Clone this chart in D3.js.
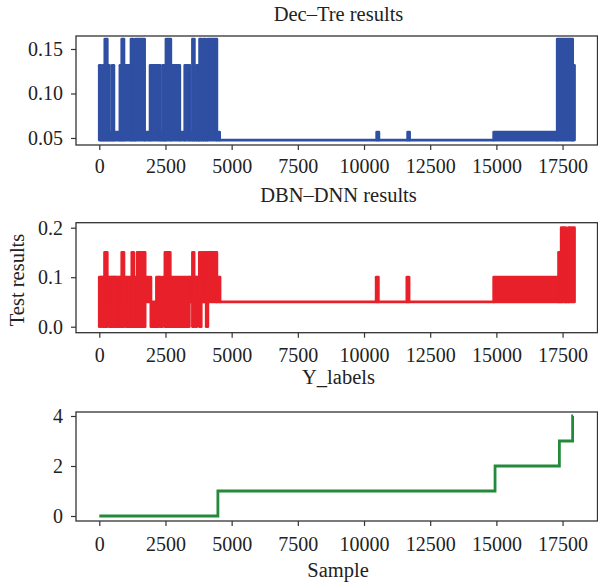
<!DOCTYPE html>
<html>
<head>
<meta charset="utf-8">
<script src="https://cdn.jsdelivr.net/npm/d3@7"></script>
<style>
  html, body { margin: 0; padding: 0; background: #fff; }
  svg { display: block; }
  text { font-family: "Liberation Serif", "DejaVu Serif", serif; fill: #222; }
</style>
</head>
<body>
<svg id="chart" width="598" height="586"></svg>
<script>
// ---------------- DATA ----------------
const xTicks = [0, 2500, 5000, 7500, 10000, 12500, 15000, 17500];
const decTicks = [0.05, 0.10, 0.15];
const dbnTicks = [0.0, 0.1, 0.2];
const labelTicks = [0, 2, 4];

const titles = ["Dec\u2013Tre results", "DBN\u2013DNN results", "Y_labels"];
const yAxisTitle = "Test results";
const xAxisTitle = "Sample";

// Dec-Tre results: [startSample, endSample, low value, high value]
// (low == high: flat line; low < high: line oscillating densely between the two)
const decTreSegments = [
  [0, 60, 0.0476, 0.1316], [60, 140, 0.0476, 0.0566], [140, 210, 0.0476, 0.1316],
  [210, 300, 0.0476, 0.1612], [300, 380, 0.0476, 0.1316], [380, 480, 0.0476, 0.0566],
  [480, 550, 0.0476, 0.1316], [550, 780, 0.0476, 0.0566], [780, 850, 0.0476, 0.1316],
  [850, 930, 0.0476, 0.1612], [930, 1200, 0.0476, 0.1316], [1200, 1280, 0.0476, 0.1612],
  [1280, 1360, 0.0476, 0.1316], [1360, 1710, 0.0476, 0.1612], [1710, 1920, 0.0476, 0.0566],
  [1920, 2300, 0.0476, 0.1316], [2300, 2390, 0.0476, 0.0566], [2390, 2460, 0.0476, 0.1316],
  [2460, 2520, 0.0476, 0.0566], [2520, 2700, 0.0476, 0.1612], [2700, 3040, 0.0476, 0.1316],
  [3040, 3230, 0.0476, 0.0566], [3230, 3420, 0.0476, 0.1316], [3420, 3520, 0.0476, 0.0566],
  [3520, 3590, 0.0476, 0.1612], [3590, 3670, 0.0476, 0.0566], [3670, 3740, 0.0476, 0.1316],
  [3740, 3790, 0.0476, 0.0566], [3790, 3870, 0.0476, 0.1612], [3870, 3940, 0.0476, 0.1316],
  [3940, 4020, 0.0476, 0.1612], [4020, 4090, 0.0476, 0.1316], [4090, 4440, 0.0476, 0.1612],
  [4440, 4545, 0.0476, 0.0566], [4545, 10480, 0.0476, 0.0476], [10480, 10560, 0.0476, 0.0566],
  [10560, 11650, 0.0476, 0.0476], [11650, 11720, 0.0476, 0.0566], [11720, 14900, 0.0476, 0.0476],
  [14900, 17300, 0.0476, 0.0566], [17300, 17880, 0.0476, 0.1612], [17880, 17950, 0.0476, 0.1316]
];

// DBN-DNN results
const dbnDnnSegments = [
  [0, 40, 0, 0.1], [40, 110, 0.05, 0.1], [110, 200, 0, 0.1], [200, 300, 0, 0.15],
  [300, 380, 0.05, 0.1], [380, 470, 0, 0.1], [470, 520, 0.05, 0.1], [520, 580, 0, 0.1],
  [580, 640, 0.05, 0.1], [640, 760, 0, 0.1], [760, 820, 0.05, 0.1], [820, 850, 0, 0.1],
  [850, 930, 0, 0.15], [930, 1010, 0.05, 0.1], [1010, 1230, 0, 0.1], [1230, 1300, 0, 0.15],
  [1300, 1430, 0, 0.1], [1430, 1730, 0, 0.15], [1730, 1950, 0.05, 0.1], [1950, 2160, 0, 0.05],
  [2160, 2250, 0, 0.1], [2250, 2320, 0.05, 0.1], [2320, 2390, 0, 0.05], [2390, 2480, 0.05, 0.1],
  [2480, 2680, 0, 0.15], [2680, 3400, 0, 0.1], [3400, 3520, 0.05, 0.1], [3520, 3580, 0, 0.15],
  [3580, 3640, 0.05, 0.1], [3640, 3680, 0, 0.1], [3680, 3780, 0.05, 0.1], [3780, 3850, 0, 0.15],
  [3850, 3920, 0.05, 0.1], [3920, 3990, 0.05, 0.15], [3990, 4040, 0.05, 0.1], [4040, 4100, 0, 0.15],
  [4100, 4440, 0.05, 0.15], [4440, 4560, 0.05, 0.1], [4560, 10460, 0.05, 0.05],
  [10460, 10540, 0.05, 0.1], [10540, 11620, 0.05, 0.05], [11620, 11700, 0.05, 0.1],
  [11700, 14900, 0.05, 0.05], [14900, 17350, 0.05, 0.1], [17350, 17450, 0.05, 0.15],
  [17450, 17620, 0.05, 0.2], [17620, 17720, 0.05, 0.15], [17720, 17950, 0.05, 0.2]
];

// Y_labels (step function)
const labelX = [0, 4480, 14950, 17380, 17880, 17900];
const labelY = [0, 1, 2, 3, 4, 4];

// ---------------- LAYOUT ----------------
const svg = d3.select("#chart");
const left = 76, right = 597.5;
const x = d3.scaleLinear().domain([-880, 18820]).range([left, right]);

const panels = [
  { top: 36, bottom: 145, domain: [0.0421, 0.1646], ticks: decTicks, fmt: d3.format(".2f"),
    color: "#2f4fa3", title: titles[0], titleY: 21, data: decTreSegments, xLabY: 173 },
  { top: 222.7, bottom: 332.7, domain: [-0.0121, 0.2101], ticks: dbnTicks, fmt: d3.format(".1f"),
    color: "#e8202a", title: titles[1], titleY: 202, data: dbnDnnSegments, xLabY: 362 },
  { top: 412, bottom: 521, domain: [-0.2, 4.16], ticks: labelTicks, fmt: d3.format("d"),
    color: "#23893b", title: titles[2], titleY: 384, data: null, xLabY: 551 }
];

const fontSize = 20;
const lineW = 2.8;

panels.forEach((p, i) => {
  const y = d3.scaleLinear().domain(p.domain).range([p.bottom, p.top]);
  const g = svg.append("g");

  // data
  if (p.data) {
    g.selectAll("path.seg").data(p.data).join("path")
      .attr("class", "seg")
      .attr("d", d => {
        const x0 = x(d[0]), x1 = x(d[1]), yl = y(d[2]), yh = y(d[3]);
        return `M${x0},${yl}V${yh}H${x1}V${yl}Z`;
      })
      .attr("fill", p.color)
      .attr("stroke", p.color)
      .attr("stroke-width", lineW)
      .attr("stroke-linejoin", "round");
  } else {
    const pts = labelX.map((v, k) => [v, labelY[k]]);
    g.append("path")
      .datum(pts)
      .attr("fill", "none")
      .attr("stroke", p.color)
      .attr("stroke-width", lineW)
      .attr("d", d3.line().x(d => x(d[0])).y(d => y(d[1])).curve(d3.curveStepAfter));
  }

  // box
  g.append("rect")
    .attr("x", left).attr("y", p.top)
    .attr("width", right - left).attr("height", p.bottom - p.top)
    .attr("fill", "none").attr("stroke", "#333").attr("stroke-width", 1.3);

  // x axis
  const xa = g.append("g").attr("transform", `translate(0,${p.bottom})`)
    .call(d3.axisBottom(x).tickValues(xTicks).tickSize(5).tickFormat(d3.format("d")));
  xa.select(".domain").remove();
  xa.selectAll(".tick line").attr("stroke", "#333").attr("stroke-width", 1.2);
  xa.selectAll(".tick text").attr("y", null).attr("dy", null)
    .attr("transform", `translate(0,${p.xLabY - p.bottom})`)
    .style("font-size", fontSize + "px")
    .style("font-family", "'Liberation Serif', serif")
    .attr("fill", "#222");

  // y axis
  const ya = g.append("g").attr("transform", `translate(${left},0)`)
    .call(d3.axisLeft(y).tickValues(p.ticks).tickSize(5).tickFormat(p.fmt));
  ya.select(".domain").remove();
  ya.selectAll(".tick line").attr("stroke", "#333").attr("stroke-width", 1.2);
  ya.selectAll(".tick text")
    .attr("x", -13)
    .style("font-size", fontSize + "px")
    .style("font-family", "'Liberation Serif', serif")
    .attr("fill", "#222");

  // title
  svg.append("text")
    .attr("x", (left + 601) / 2).attr("y", p.titleY)
    .attr("text-anchor", "middle")
    .style("font-size", "20.5px")
    .text(p.title);
});

// axis titles
svg.append("text")
  .attr("transform", "translate(24,280) rotate(-90)")
  .attr("text-anchor", "middle")
  .style("font-size", "20.5px")
  .text(yAxisTitle);

svg.append("text")
  .attr("x", 338).attr("y", 577)
  .attr("text-anchor", "middle")
  .style("font-size", "20.5px")
  .text(xAxisTitle);
</script>
</body>
</html>
